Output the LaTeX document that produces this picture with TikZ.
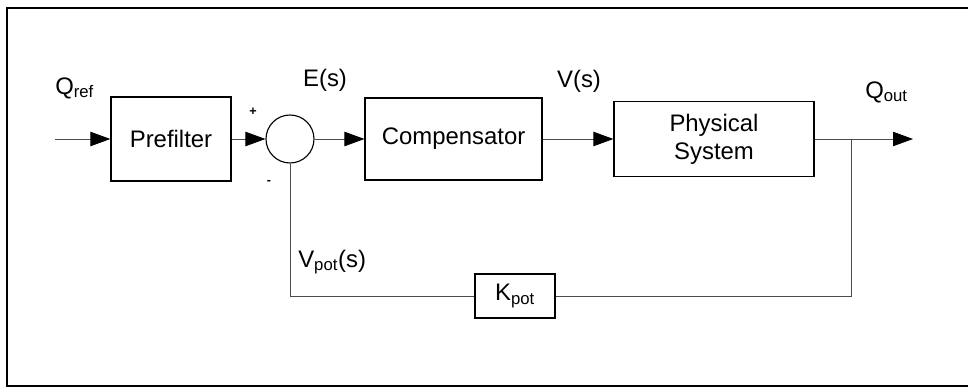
\documentclass[tikz,border=0pt]{standalone}
\usepackage{fontspec}
\setmainfont{Liberation Sans}
\usetikzlibrary{arrows.meta}
\tikzset{
  block/.style={draw=black, line width=0.9pt, minimum width=#1, inner sep=0pt, font=\fontsize{17}{20}\selectfont, align=center},
  sig/.style={draw=black!70, line width=0.6pt},
  bigtip/.style={-{Triangle[length=5mm, width=3.6mm, color=black]}},
  lbl/.style={font=\fontsize{17}{20}\selectfont, inner sep=0pt}
}
\begin{document}
\begin{tikzpicture}
    \useasboundingbox (0,0) rectangle (24.2,9.7);
    % Outer frame, open on the right
    \draw[line width=0.9pt] (24.2,9.5) -- (0.175,9.5) -- (0.175,0.05) -- (24.2,0.05);
    % Blocks
    \node[block=3cm, minimum height=2.1cm] (prefilter) at (4.275,6.225) {Prefilter};
    \node[draw=black, line width=0.8pt, circle, minimum size=1.2cm, inner sep=0pt] (sum) at (7.25,6.225) {};
    \node[block=4.425cm, minimum height=2.05cm] (comp) at (11.34,6.225) {Compensator};
    \node[block=5cm, minimum height=1.875cm] (plant) at (17.85,6.225) {Physical\\System};
    \node[block=2cm, minimum height=1.1cm] (kpot) at (12.875,2.3) {K\textsubscript{pot}};
    % Free ends and branch point
    \coordinate (in) at (1.375,6.225);
    \coordinate (out) at (22.825,6.225);
    \coordinate (branch) at (21.275,6.225);
    % Forward path
    \draw[sig, bigtip] (in) -- (prefilter);
    \draw[sig, bigtip] (prefilter) -- (sum);
    \draw[sig, bigtip] (sum) -- (comp);
    \draw[sig, bigtip] (comp) -- (plant);
    \draw[sig, bigtip] (plant) -- (out);
    % Feedback path
    \draw[sig] (branch) |- (kpot);
    \draw[sig] (kpot) -| (sum);
    % Signal labels
    \node[lbl, anchor=west] (qref) at (1.375,7.5) {Q\textsubscript{ref}};
    \node[lbl] (es) at (8.125,7.7) {E(s)};
    \node[lbl] (vs) at (14.475,7.675) {V(s)};
    \node[lbl, anchor=west] (qout) at (21.625,7.4) {Q\textsubscript{out}};
    \node[lbl, anchor=west] (vpot) at (7.45,3.15) {V\textsubscript{pot}(s)};
    \node[font=\small\bfseries, inner sep=0pt] (plus) at (6.325,6.9) {+};
    \node[font=\small\bfseries, inner sep=0pt] (minus) at (6.725,5.15) {-};
\end{tikzpicture}
\end{document}
